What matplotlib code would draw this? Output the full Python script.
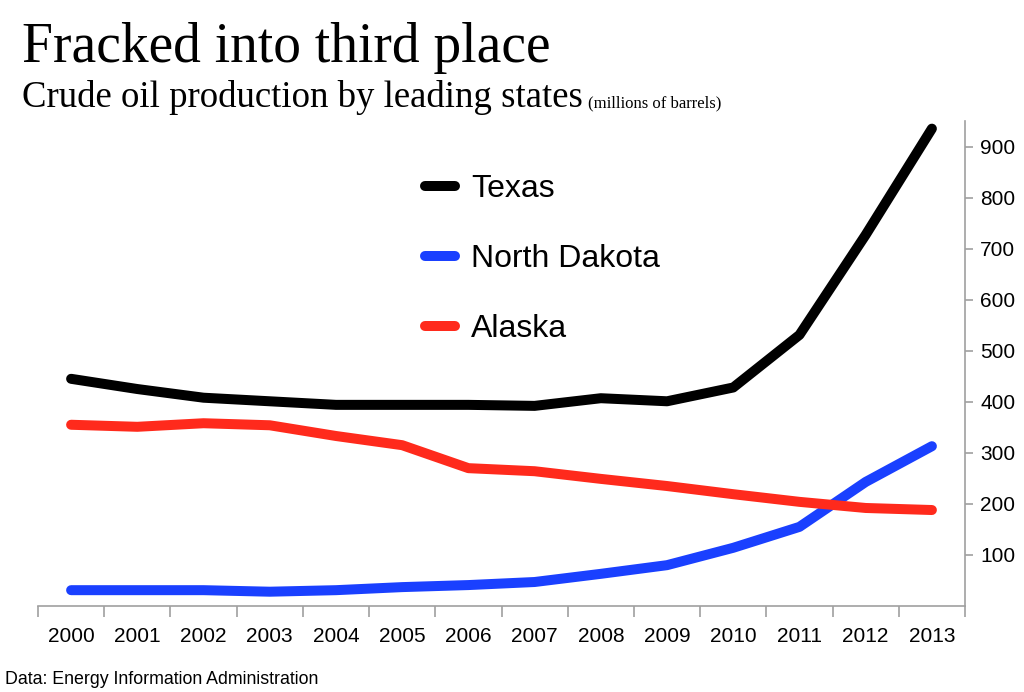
import matplotlib.pyplot as plt
import numpy as np

years = ['2000', '2001', '2002', '2003', '2004', '2005', '2006',
         '2007', '2008', '2009', '2010', '2011', '2012', '2013']
# millions of barrels
texas = [445, 425, 408, 401, 394, 394, 394, 392, 407, 401, 428, 531, 727, 935]
north_dakota = [31, 31, 31, 28, 31, 37, 41, 47, 63, 80, 114, 155, 243, 313]
alaska = [355, 351, 358, 354, 333, 315, 270, 264, 249, 235, 219, 204, 192, 188]
y_ticks = [100, 200, 300, 400, 500, 600, 700, 800, 900]

labels = ['Texas', 'North Dakota', 'Alaska']
colors = ['#000000', '#1a40ff', '#ff2a1c']
sans = ['Liberation Sans', 'DejaVu Sans']
serif = ['Liberation Serif', 'DejaVu Serif']

fig = plt.figure(figsize=(10.24, 6.92), dpi=100)
ax = fig.add_axes([38/1024, 1 - 606/692, 927/1024, 485/692])

x = np.arange(len(years))
for vals, lab, col in zip([texas, north_dakota, alaska], labels, colors):
    ax.plot(x, vals, color=col, lw=7.2, label=lab,
            solid_capstyle='round', solid_joinstyle='round')

ax.set_xlim(-0.5, len(years) - 0.5)
ax.set_ylim(0, 950)

gray = '#a0a0a0'
for s in ['left', 'top']:
    ax.spines[s].set_visible(False)
for s in ['bottom', 'right']:
    ax.spines[s].set_color(gray)
    ax.spines[s].set_linewidth(1.2)

# ticks sit between the years, labels at the year centres
ax.set_xticks(np.arange(-0.5, len(years)))
ax.set_xticklabels([])
ax.set_xticks(x, minor=True)
ax.set_xticklabels(years, minor=True, family=sans, fontsize=15)
ax.tick_params(axis='x', which='major', length=8, color=gray, width=1.2, direction='out')
ax.tick_params(axis='x', which='minor', length=0, pad=15)

ax.yaxis.tick_right()
ax.set_yticks(y_ticks)
ax.set_yticklabels([str(v) for v in y_ticks], family=sans, fontsize=15)
ax.tick_params(axis='y', length=6, color=gray, width=1.2, pad=5)

ax.legend(loc='upper left', bbox_to_anchor=(0.417, 0.89), frameon=False,
          prop={'family': sans, 'size': 23}, handlelength=0.95,
          handletextpad=0.5, labelspacing=1.25, borderpad=0, borderaxespad=0)

fig.text(22/1024, 1 - 62/692, 'Fracked into third place', family=serif, fontsize=40)
sub = fig.text(22/1024, 1 - 107/692, 'Crude oil production by leading states',
               family=serif, fontsize=26.5)
fig.canvas.draw()
bb = sub.get_window_extent()
fig.text((bb.x1 + 5) / 1024, 1 - 107/692, '(millions of barrels)',
         family=serif, fontsize=12)
fig.text(5/1024, 1 - 684/692, 'Data: Energy Information Administration',
         family=sans, fontsize=12.8)

fig.savefig('out.png', dpi=100)
